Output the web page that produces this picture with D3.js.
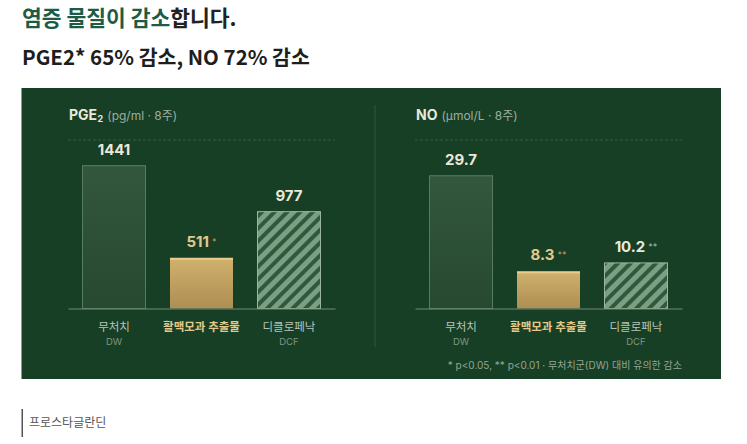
<!DOCTYPE html>
<html><head><meta charset="utf-8">
<script src="https://cdn.jsdelivr.net/npm/d3@7"></script>
<style>
html,body{margin:0;padding:0;background:#fff;}
svg{display:block;font-family:Inter,"Noto Sans CJK KR","Noto Sans",sans-serif;}
.kr{font-family:"Noto Sans CJK KR","Noto Sans",sans-serif;}
</style></head>
<body><svg id="c" width="747" height="444"></svg>
<script>
const categories = ["무처치", "활맥모과 추출물", "디클로페낙"];
const categoryCodes = ["DW", "", "DCF"];
const pgeValues = [1441, 511, 977];
const pgeMarks = ["", "*", ""];
const noValues = [29.7, 8.3, 10.2];
const noMarks = ["", "**", "**"];
const pgeDomain = [0, 1700];
const noDomain = [0, 37.7];

const svg = d3.select("#c");
const defs = svg.append("defs");

const gGold = defs.append("linearGradient").attr("id","gold").attr("x1",0).attr("y1",0).attr("x2",0).attr("y2",1);
gGold.append("stop").attr("offset","0%").attr("stop-color","#d1b16d");
gGold.append("stop").attr("offset","100%").attr("stop-color","#ae8e52");
const gDw = defs.append("linearGradient").attr("id","dw").attr("x1",0).attr("y1",0).attr("x2",0).attr("y2",1);
gDw.append("stop").attr("offset","0%").attr("stop-color","#33573d");
gDw.append("stop").attr("offset","100%").attr("stop-color","#26492f");
const pat = defs.append("pattern").attr("id","hatch").attr("patternUnits","userSpaceOnUse")
  .attr("width",9).attr("height",9).attr("patternTransform","rotate(45)");
pat.append("rect").attr("width",9).attr("height",9).attr("fill","#7c9e84");
pat.append("rect").attr("width",4).attr("height",9).attr("fill","#2e5a3b");

const t1 = svg.append("text").attr("class","kr").attr("x",22).attr("y",25.5).attr("font-size",21.5).attr("font-weight",700);
t1.append("tspan").attr("fill","#1c5c47").text("염증 물질이 감소");
t1.append("tspan").attr("fill","#222").text("합니다.");
svg.append("text").attr("class","kr").attr("x",22).attr("y",65).attr("font-size",20.5).attr("font-weight",700)
  .attr("fill","#1e1e1e").text("PGE2* 65% 감소, NO 72% 감소");

svg.append("rect").attr("x",21.5).attr("y",88).attr("width",699.5).attr("height",291).attr("fill","#173f26");
svg.append("line").attr("x1",375).attr("x2",375).attr("y1",105).attr("y2",347)
  .attr("stroke","#2f5a3e").attr("stroke-width",1);

function panel(x0, x1, values, marks, domain, titleMain, titleSub, subSuffix){
  const yTop = 140, yBase = 308.5;
  const x = d3.scaleBand().domain(categories).range([x0, x1]).paddingInner(0.28).paddingOuter(0.166);
  const y = d3.scaleLinear().domain(domain).range([yBase, yTop]);
  const g = svg.append("g");
  const tt = g.append("text").attr("x", x0+1).attr("y", 119.5);
  tt.append("tspan").attr("font-size",14).attr("font-weight",700).attr("fill","#ece8d8").text(titleMain);
  if (subSuffix) tt.append("tspan").attr("font-size",9).attr("font-weight",700).attr("fill","#ece8d8").attr("dy",2).attr("dx",0.5).text(subSuffix);
  tt.append("tspan").attr("font-size",12).attr("fill","#9cae9f").attr("dy", subSuffix? -2:0).attr("dx",4).text(titleSub);
  g.append("line").attr("x1",x0).attr("x2",x1).attr("y1",y(domain[1])).attr("y2",y(domain[1]))
    .attr("stroke","#3d6449").attr("stroke-dasharray","3,2").attr("stroke-width",0.8);
  const fills = ["url(#dw)","url(#gold)","url(#hatch)"];
  const strokes = ["#587d62","none","#9bb9a1"];
  values.forEach((v,i)=>{
    const c = categories[i];
    g.append("rect").attr("x",x(c)).attr("y",y(v)).attr("width",x.bandwidth()).attr("height",yBase-y(v))
      .attr("fill",fills[i]).attr("stroke",strokes[i]).attr("stroke-width",1);
    if (i===1){
      g.append("rect").attr("x",x(c)).attr("y",y(v)).attr("width",x.bandwidth()).attr("height",2)
        .attr("fill","#e6cd8e");
    }
    const lab = g.append("text").attr("x", x(c)+x.bandwidth()/2).attr("y", y(v)-11)
      .attr("text-anchor","middle");
    lab.append("tspan").attr("font-size",15).attr("font-weight",700)
      .attr("fill", i===1 ? "#e3c98a" : "#ece8d8").text(v);
    if (marks[i]) lab.append("tspan").attr("font-size",9).attr("dx",3).attr("dy",-2)
      .attr("fill", i===1 ? "#b79d62" : "#a8b7a8").text(marks[i]);
    g.append("text").attr("x", x(c)+x.bandwidth()/2).attr("y", 331).attr("text-anchor","middle")
      .attr("font-size",11.5).attr("font-weight", i===1?700:400)
      .attr("fill", i===1 ? "#e3c98a" : "#b9c4b8").text(c);
    if (categoryCodes[i]) g.append("text").attr("x", x(c)+x.bandwidth()/2).attr("y", 345).attr("text-anchor","middle")
      .attr("font-size",9.5).attr("fill","#7f977f").text(categoryCodes[i]);
  });
  const ax = g.append("g").attr("transform",`translate(0,${yBase})`)
    .call(d3.axisBottom(x).tickSize(0).tickFormat(""));
  ax.select(".domain").attr("stroke","#6f8b70").attr("stroke-width",1.2);
}
panel(68, 335, pgeValues, pgeMarks, pgeDomain, "PGE", "(pg/ml · 8주)", "2");
panel(415, 682, noValues, noMarks, noDomain, "NO", "(μmol/L · 8주)", "");

svg.append("text").attr("x",682).attr("y",369).attr("text-anchor","end").attr("font-size",10)
  .attr("fill","#93a593").text("* p<0.05, ** p<0.01 · 무처치군(DW) 대비 유의한 감소");

svg.append("rect").attr("x",21.5).attr("y",409).attr("width",1.5).attr("height",28).attr("fill","#555");
svg.append("text").attr("class","kr").attr("x",29).attr("y",427).attr("font-size",12).attr("fill","#555").text("프로스타글란딘");
</script></body></html>
